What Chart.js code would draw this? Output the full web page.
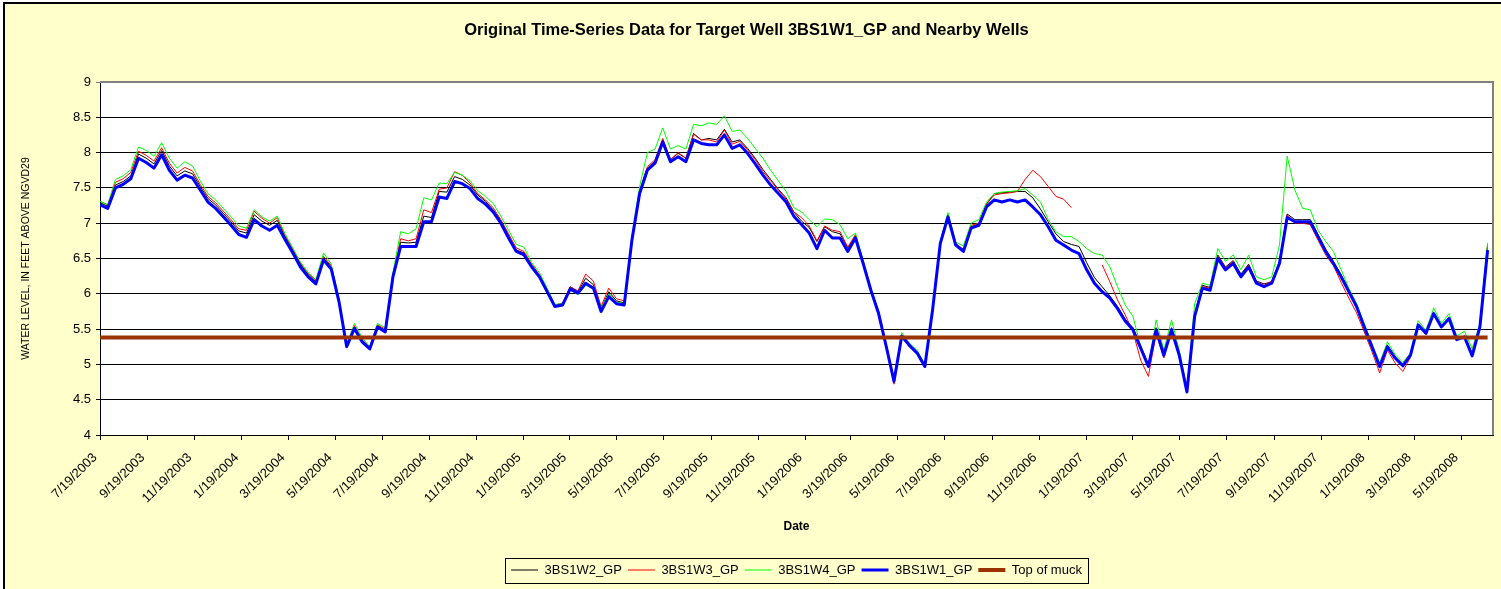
<!DOCTYPE html>
<html>
<head>
<meta charset="utf-8">
<title>Water levels 3BS1W1_GP</title>
<script src="https://cdn.jsdelivr.net/npm/chart.js@4/dist/chart.umd.min.js"></script>
<style>
  html, body { margin: 0; padding: 0; background: #ffffff; }
  canvas { display: block; }
</style>
</head>
<body>
<canvas id="wellChart" width="1501" height="589"></canvas>
<script>
// readings every 10 days starting 7/19/2003
const startDate = '7/19/2003';
const stepDays = 10;
const axisEndDate = '6/29/2008';

const tickLabels = ['7/19/2003', '9/19/2003', '11/19/2003', '1/19/2004', '3/19/2004', '5/19/2004',
    '7/19/2004', '9/19/2004', '11/19/2004', '1/19/2005', '3/19/2005', '5/19/2005',
    '7/19/2005', '9/19/2005', '11/19/2005', '1/19/2006', '3/19/2006', '5/19/2006',
    '7/19/2006', '9/19/2006', '11/19/2006', '1/19/2007', '3/19/2007', '5/19/2007',
    '7/19/2007', '9/19/2007', '11/19/2007', '1/19/2008', '3/19/2008', '5/19/2008'];

const w2 = [
    7.29, 7.24, 7.54, 7.59, 7.67, 7.98, 7.92, 7.84, 8.03, 7.81,
    7.67, 7.74, 7.70, 7.52, 7.35, 7.26, 7.14, 7.02, 6.89, 6.86,
    7.12, 7.03, 6.97, 7.04, 6.81, 6.62, 6.42, 6.27, 6.17, 6.51,
    6.38, 5.90, 5.26, 5.53, 5.34, 5.23, 5.55, 5.48, 6.26, 6.73,
    6.72, 6.73, 7.10, 7.08, 7.45, 7.44, 7.66, 7.62, 7.54, 7.40,
    7.31, 7.19, 7.03, 6.82, 6.62, 6.58, 6.40, 6.26, 6.05, 5.83,
    5.85, 6.10, 6.03, 6.22, 6.13, 5.79, 6.03, 5.90, 5.87, 6.78,
    7.44, 7.78, 7.88, 8.18, 7.90, 7.99, 7.92, 8.27, 8.18, 8.20,
    8.18, 8.33, 8.15, 8.18, 8.06, 7.92, 7.76, 7.62, 7.48, 7.36,
    7.16, 7.03, 6.94, 6.74, 6.95, 6.88, 6.85, 6.65, 6.82, 6.45,
    6.07, 5.75, 5.28, 4.78, 5.42, 5.28, 5.17, 4.98, 5.78, 6.73,
    7.11, 6.71, 6.63, 6.95, 6.99, 7.27, 7.42, 7.43, 7.44, 7.45,
    7.45, 7.36, 7.20, 7.02, 6.85, 6.74, 6.70, 6.67, 6.44, 6.23,
    6.10, 5.97, 5.82, 5.64, 5.52, 5.26, 5.00, 5.52, 5.16, 5.52,
    5.16, 4.64, 5.72, 6.12, 6.09, 6.55, 6.38, 6.47, 6.28, 6.42,
    6.18, 6.14, 6.17, 6.46, 7.13, 7.05, 7.05, 7.05, 6.84, 6.63,
    6.46, 6.27, 6.06, 5.85, 5.56, 5.27, 4.98, 5.27, 5.11, 5.00,
    5.14, 5.57, 5.45, 5.73, 5.54, 5.66, 5.36, 5.40, 5.15, 5.55,
    6.68
];

const w3 = [
    7.31, 7.26, 7.58, 7.63, 7.72, 8.02, 7.96, 7.88, 8.07, 7.85,
    7.71, 7.79, 7.74, 7.55, 7.38, 7.29, 7.17, 7.05, 6.92, 6.90,
    7.17, 7.07, 7.00, 7.08, 6.83, 6.64, 6.44, 6.29, 6.19, 6.53,
    6.40, 5.91, 5.27, 5.55, 5.35, 5.25, 5.56, 5.50, 6.27, 6.78,
    6.75, 6.78, 7.19, 7.15, 7.48, 7.50, 7.73, 7.68, 7.57, 7.42,
    7.33, 7.22, 7.05, 6.85, 6.65, 6.60, 6.42, 6.27, 6.06, 5.84,
    5.87, 6.10, 6.04, 6.28, 6.18, 5.82, 6.08, 5.93, 5.90, 6.78,
    7.45, 7.80, 7.90, 8.20, 7.90, 8.00, 7.92, 8.26, 8.18, 8.18,
    8.15, 8.32, 8.12, 8.16, 8.04, 7.90, 7.73, 7.60, 7.47, 7.34,
    7.16, 7.08, 6.96, 6.75, 6.96, 6.90, 6.88, 6.66, 6.84, 6.45,
    6.05, 5.70, 5.22, 4.72, 5.38, 5.25, 5.15, 4.95, 5.75, 6.72,
    7.12, 6.72, 6.62, 6.97, 7.00, 7.27, 7.40, 7.42, 7.43, 7.45,
    7.62, 7.75, 7.66, 7.52, 7.38, 7.34, 7.22, null, null, null,
    6.41, 6.17, 5.91, 5.70, 5.46, 5.06, 4.83, 5.44, 5.09, 5.50,
    5.12, 4.62, 5.70, 6.10, 6.08, 6.53, 6.37, 6.46, 6.26, 6.41,
    6.17, 6.12, 6.18, 6.45, 7.12, 7.00, 7.00, 6.98, 6.76, 6.55,
    6.40, 6.16, 5.94, 5.73, 5.46, 5.18, 4.88, 5.20, 5.02, 4.90,
    5.10, 5.55, 5.42, 5.72, 5.52, 5.64, 5.36, 5.40, 5.15, 5.55,
    6.70
];

const w4 = [
    7.31, 7.26, 7.62, 7.67, 7.76, 8.08, 8.03, 7.95, 8.14, 7.92,
    7.78, 7.87, 7.81, 7.60, 7.42, 7.33, 7.21, 7.09, 6.96, 6.93,
    7.19, 7.09, 7.03, 7.10, 6.85, 6.65, 6.45, 6.30, 6.20, 6.58,
    6.42, 5.93, 5.28, 5.58, 5.38, 5.25, 5.58, 5.52, 6.30, 6.88,
    6.85, 6.92, 7.36, 7.33, 7.57, 7.56, 7.72, 7.68, 7.60, 7.46,
    7.38, 7.28, 7.10, 6.90, 6.70, 6.66, 6.44, 6.30, 6.08, 5.85,
    5.86, 6.05, 5.99, 6.12, 6.07, 5.80, 6.00, 5.88, 5.86, 6.82,
    7.52, 8.00, 8.05, 8.35, 8.05, 8.10, 8.05, 8.40, 8.38, 8.42,
    8.40, 8.52, 8.30, 8.32, 8.20, 8.06, 7.92, 7.75, 7.60, 7.45,
    7.22, 7.16, 7.05, 6.95, 7.06, 7.05, 6.98, 6.78, 6.86, 6.47,
    6.07, 5.73, 5.26, 4.78, 5.45, 5.30, 5.20, 5.00, 5.80, 6.75,
    7.15, 6.73, 6.68, 7.00, 7.05, 7.30, 7.42, 7.44, 7.45, 7.46,
    7.49, 7.40, 7.30, 7.05, 6.88, 6.81, 6.81, 6.74, 6.64, 6.57,
    6.55, 6.38, 6.10, 5.84, 5.68, 5.25, 4.97, 5.63, 5.20, 5.63,
    5.20, 4.66, 5.86, 6.15, 6.12, 6.64, 6.46, 6.55, 6.34, 6.55,
    6.24, 6.20, 6.24, 6.69, 7.95, 7.47, 7.21, 7.19, 6.90, 6.74,
    6.60, 6.34, 6.08, 5.86, 5.58, 5.29, 5.02, 5.32, 5.14, 5.03,
    5.16, 5.62, 5.48, 5.80, 5.58, 5.72, 5.40, 5.47, 5.22, 5.58,
    6.72
];

const w1 = [
    7.26, 7.21, 7.50, 7.55, 7.63, 7.92, 7.86, 7.78, 7.97, 7.75,
    7.61, 7.68, 7.64, 7.47, 7.30, 7.21, 7.09, 6.97, 6.84, 6.80,
    7.05, 6.96, 6.90, 6.97, 6.77, 6.58, 6.38, 6.24, 6.14, 6.48,
    6.35, 5.89, 5.25, 5.51, 5.32, 5.22, 5.53, 5.46, 6.24, 6.67,
    6.67, 6.67, 7.02, 7.02, 7.37, 7.35, 7.59, 7.56, 7.49, 7.35,
    7.27, 7.16, 7.00, 6.79, 6.60, 6.55, 6.38, 6.24, 6.03, 5.82,
    5.84, 6.07, 6.01, 6.15, 6.08, 5.75, 5.96, 5.86, 5.84, 6.76,
    7.42, 7.75, 7.85, 8.15, 7.87, 7.94, 7.87, 8.18, 8.13, 8.11,
    8.11, 8.25, 8.06, 8.11, 7.99, 7.84, 7.68, 7.54, 7.42, 7.30,
    7.10, 6.98, 6.86, 6.64, 6.90, 6.79, 6.79, 6.60, 6.79, 6.43,
    6.05, 5.72, 5.25, 4.76, 5.40, 5.27, 5.16, 4.97, 5.77, 6.71,
    7.09, 6.69, 6.60, 6.93, 6.97, 7.23, 7.33, 7.30, 7.33, 7.30,
    7.33, 7.23, 7.12, 6.95, 6.76, 6.69, 6.62, 6.57, 6.34, 6.15,
    6.03, 5.94, 5.79, 5.61, 5.49, 5.23, 4.97, 5.49, 5.13, 5.49,
    5.13, 4.61, 5.68, 6.08, 6.05, 6.50, 6.34, 6.43, 6.24, 6.38,
    6.15, 6.10, 6.15, 6.43, 7.08, 7.02, 7.02, 7.02, 6.81, 6.60,
    6.43, 6.24, 6.03, 5.82, 5.53, 5.25, 4.97, 5.25, 5.09, 4.98,
    5.13, 5.56, 5.44, 5.72, 5.53, 5.65, 5.35, 5.39, 5.12, 5.53,
    6.62
];

const topOfMuck = 5.38;

function dayNumber(str) {
    const [m, d, y] = str.split('/').map(Number);
    const [m0, d0, y0] = startDate.split('/').map(Number);
    return Math.round((Date.UTC(y, m - 1, d) - Date.UTC(y0, m0 - 1, d0)) / 86400000);
}

const toPoints = vals => vals.map((v, i) => ({ x: i * stepDays, y: v }));
const lastDay = (w1.length - 1) * stepDays;
const tickDays = tickLabels.map(dayNumber);

const FONT = "'Liberation Sans', Arial, sans-serif";

// yellow page, white plot area, frame lines
const framePlugin = {
    id: 'frame',
    beforeDraw(chart) {
        const { ctx, chartArea: a } = chart;
        ctx.save();
        ctx.fillStyle = '#ffffff';
        ctx.fillRect(0, 0, chart.width, chart.height);
        ctx.fillStyle = '#ffffcc';
        ctx.fillRect(4, 3, chart.width - 4, chart.height - 3);
        ctx.strokeStyle = '#000000';
        ctx.lineWidth = 2;
        ctx.beginPath();
        ctx.moveTo(4, chart.height);
        ctx.lineTo(4, 3);
        ctx.lineTo(chart.width, 3);
        ctx.stroke();
        ctx.fillStyle = '#ffffff';
        ctx.fillRect(a.left, a.top, a.right - a.left, a.bottom - a.top);
        ctx.restore();
    },
    afterDraw(chart) {
        const { ctx, chartArea: a, legend } = chart;
        ctx.save();
        ctx.strokeStyle = '#808080';
        ctx.lineWidth = 2;
        ctx.beginPath();
        ctx.moveTo(a.left, a.top);
        ctx.lineTo(a.right, a.top);
        ctx.lineTo(a.right, a.bottom);
        ctx.stroke();
        // box round the legend items
        const boxes = legend.legendHitBoxes;
        if (boxes && boxes.length) {
            const l = boxes[0].left - 6;
            const r = boxes[boxes.length - 1].left + boxes[boxes.length - 1].width + 6;
            const t = boxes[0].top - 6;
            const b = boxes[0].top + boxes[0].height + 6;
            ctx.strokeStyle = '#000000';
            ctx.lineWidth = 1;
            ctx.strokeRect(Math.round(l) + 0.5, Math.round(t) + 0.5, Math.round(r - l), Math.round(b - t));
        }
        ctx.restore();
    }
};

const ctx = document.getElementById('wellChart').getContext('2d');
new Chart(ctx, {
    type: 'line',
    data: {
        datasets: [
            { label: '3BS1W2_GP', data: toPoints(w2), borderColor: '#000000', borderWidth: 1, order: 4 },
            { label: '3BS1W3_GP', data: toPoints(w3), borderColor: '#ff0000', borderWidth: 1, order: 3 },
            { label: '3BS1W4_GP', data: toPoints(w4), borderColor: '#00ff00', borderWidth: 1, order: 2 },
            { label: '3BS1W1_GP', data: toPoints(w1), borderColor: '#0000ff', borderWidth: 3, order: 1 },
            {
                label: 'Top of muck',
                data: [{ x: 0, y: topOfMuck }, { x: lastDay, y: topOfMuck }],
                borderColor: '#993300', borderWidth: 4, order: 0
            }
        ]
    },
    options: {
        responsive: false,
        animation: false,
        devicePixelRatio: 1,
        layout: { padding: { left: 0, right: 8, top: 0, bottom: 2.5 } },
        elements: {
            point: { radius: 0, hoverRadius: 0 },
            line: { tension: 0, fill: false, borderJoinStyle: 'round' }
        },
        scales: {
            x: {
                type: 'linear',
                min: 0,
                max: dayNumber(axisEndDate),
                afterBuildTicks: scale => { scale.ticks = tickDays.map(v => ({ value: v })); },
                afterFit: scale => { scale.height = 122.5; },
                ticks: {
                    autoSkip: false,
                    minRotation: 45,
                    maxRotation: 45,
                    color: '#000000',
                    font: { family: FONT, size: 13 },
                    padding: 10,
                    labelOffset: -5,
                    callback: (value, index) => tickLabels[index]
                },
                grid: { drawOnChartArea: false, drawTicks: true, tickLength: 5, color: '#000000' },
                border: { color: '#000000', width: 1 },
                title: {
                    display: true,
                    text: 'Date',
                    color: '#000000',
                    font: { family: FONT, size: 12, weight: 'bold' },
                    padding: { top: 0, bottom: 23.3 }
                }
            },
            y: {
                min: 4,
                max: 9,
                afterFit: scale => { scale.width = 100; },
                ticks: {
                    stepSize: 0.5,
                    color: '#000000',
                    font: { family: FONT, size: 13 },
                    padding: 5,
                    callback: value => String(value)
                },
                grid: {
                    color: c => (c.tick && c.tick.value === 9 ? '#808080' : '#000000'),
                    tickLength: 4,
                    lineWidth: 1
                },
                border: { color: '#000000', width: 1 },
                title: {
                    display: true,
                    text: 'WATER LEVEL, IN FEET ABOVE NGVD29',
                    color: '#000000',
                    font: { family: FONT, size: 10.5 },
                    padding: { top: 19.7, bottom: 0 }
                }
            }
        },
        plugins: {
            title: {
                display: true,
                text: 'Original Time-Series Data for Target Well 3BS1W1_GP and Nearby Wells',
                color: '#000000',
                font: { family: FONT, size: 16.5, weight: 'bold' },
                padding: { top: 20.1, bottom: 42.1 }
            },
            legend: {
                position: 'bottom',
                fullSize: false,
                labels: {
                    usePointStyle: true,
                    pointStyle: 'line',
                    pointStyleWidth: 27,
                    color: '#000000',
                    font: { family: FONT, size: 13 },
                    padding: 6,
                    sort: (a, b) => a.datasetIndex - b.datasetIndex
                }
            },
            tooltip: { enabled: false }
        }
    },
    plugins: [framePlugin]
});
</script>
</body>
</html>
